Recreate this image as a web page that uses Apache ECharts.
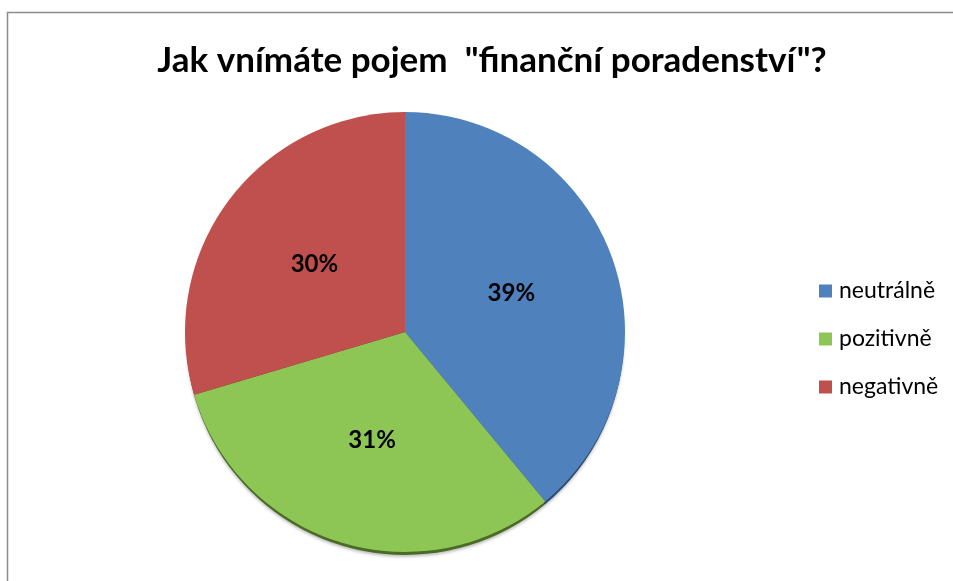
<!DOCTYPE html>
<html><head><meta charset="utf-8">
<script src="https://cdn.jsdelivr.net/npm/echarts@6/dist/echarts.min.js"></script>
<style>html,body{margin:0;padding:0;background:#fff}#c{width:953px;height:581px}</style>
</head><body><div id="c"></div>
<script>
const titleText = 'Jak vnímáte pojem  "finanční poradenství"?';
const categories = ['neutrálně', 'pozitivně', 'negativně'];
const values = [39, 31.4, 29.6];
const colors = ['#4F81BD', '#8DC655', '#C0504D'];
const edgeColors = ['#2E4B72', '#4A6B25', '#7A2E2C'];

const chart = echarts.init(document.getElementById('c'));
chart.setOption({
  animation: false,
  graphic: [{type:'rect', shape:{x:7.5,y:12.5,width:960,height:600}, style:{fill:'none',stroke:'#8c8c8c',lineWidth:1.5}}],
  title: {text: titleText, left: 487, top: 38, textAlign: 'center',
    textStyle: {fontFamily:'Lato', fontWeight:'bold', fontSize:35, color:'#000'}},
  legend: {orient:'vertical', left: 814, top: 274, itemWidth:13, itemHeight:13, itemGap: 24,
    icon:'rect', data: categories,
    textStyle:{fontFamily:'Lato', fontSize:23, lineHeight:24, color:'#000', padding:[0,0,0,2]}},
  series: [{
    type:'pie', z:3, center:[405,332], radius:[0,220], startAngle:90, clockwise:true,
    percentPrecision: 0,
    data: categories.map((c,i)=>({name:c, value:values[i], itemStyle:{color:colors[i]}})),
    label:{position:'inside', formatter:'{d}%', fontFamily:'Lato', fontWeight:'bold', fontSize:24, color:'#000'},
    labelLine:{show:false}
  },{
    type:'pie', z:1, center:[405,336], radius:[0,219], startAngle:90, clockwise:true, silent:true,
    legendHoverLink:false,
    data: categories.map((c,i)=>({name:c, value:values[i], itemStyle:{color:edgeColors[i]}})),
    itemStyle:{shadowColor:'rgba(0,0,0,0.25)', shadowOffsetY:2, shadowBlur:3},
    label:{show:false}, labelLine:{show:false}
  }]
});
</script></body></html>
